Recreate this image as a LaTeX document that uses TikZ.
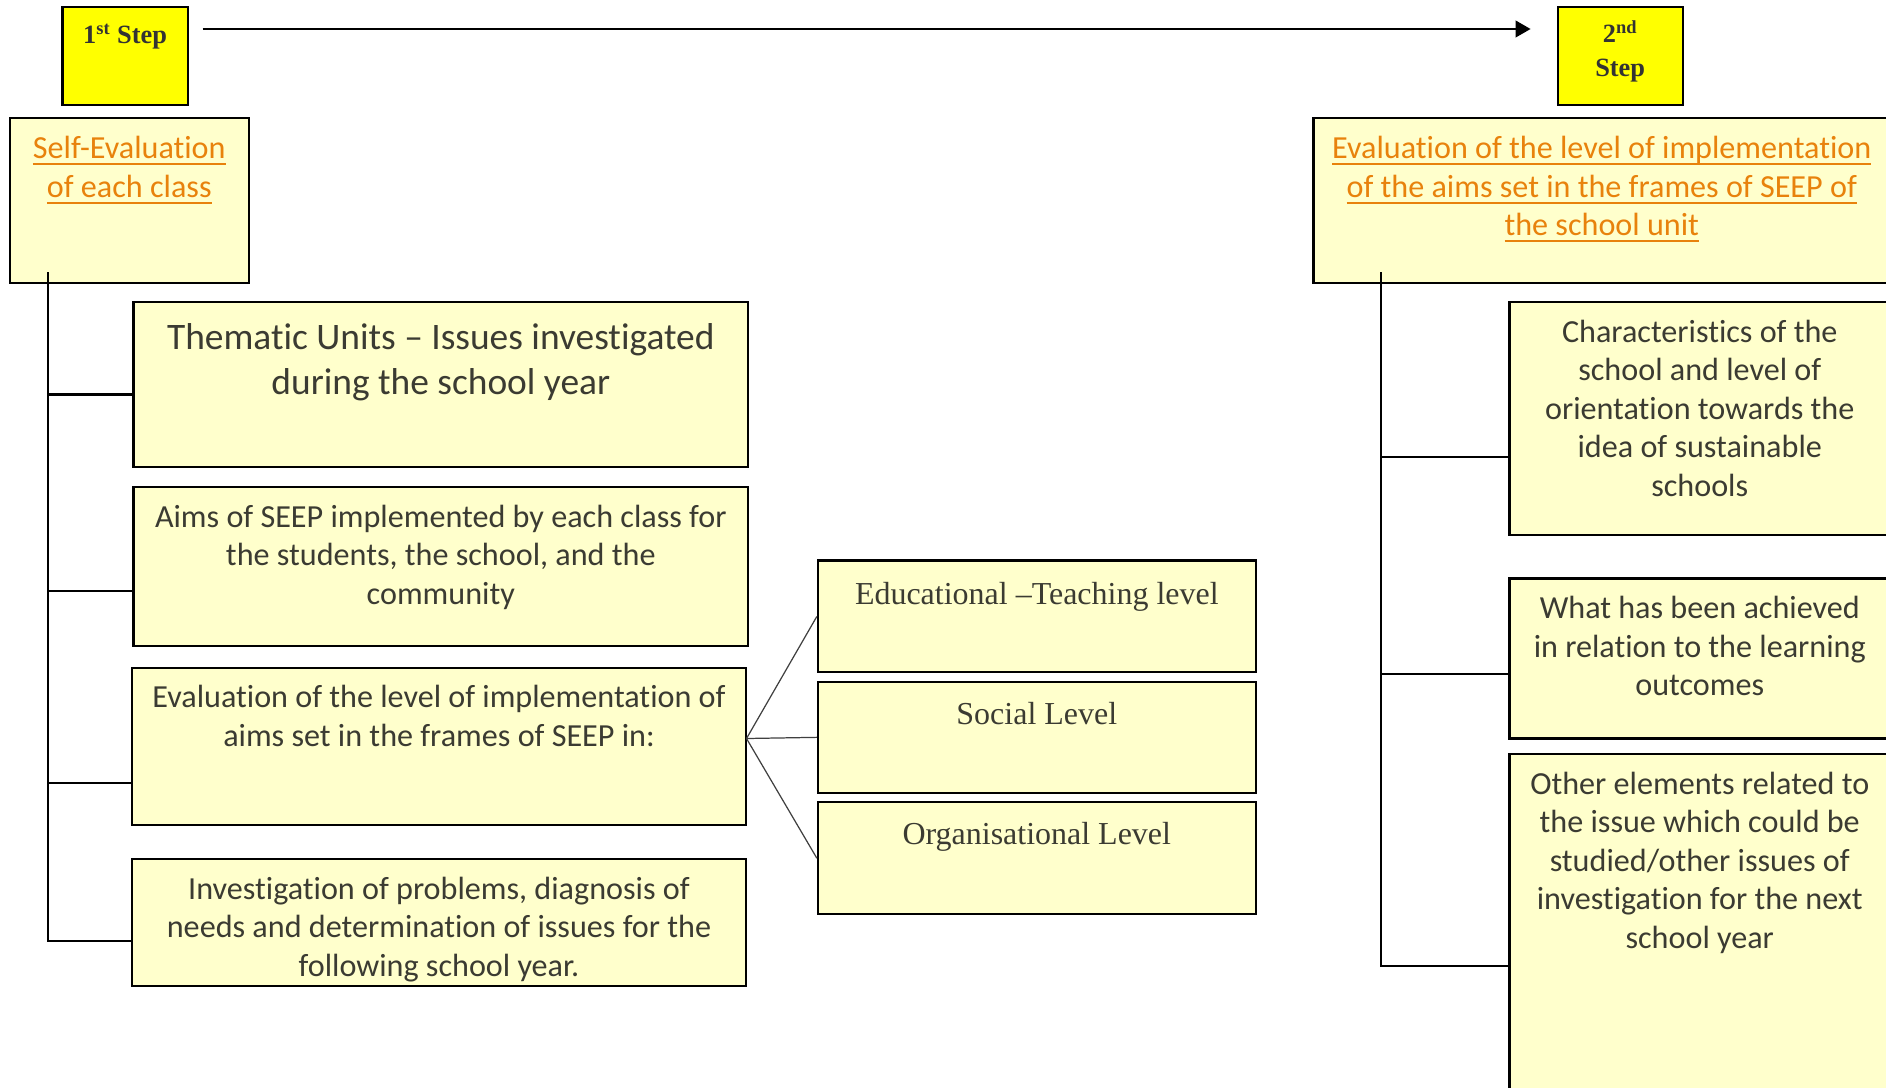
\documentclass[tikz,border=0pt]{standalone}
\usepackage{fontspec}
\setmainfont{Carlito}[Ligatures=NoCommon]
\newfontfamily\tnr{Liberation Serif}
\usetikzlibrary{fit,arrows.meta,calc}
\definecolor{boxfill}{HTML}{FFFFCC}
\definecolor{stepfill}{HTML}{FFFF00}
\definecolor{txtgray}{RGB}{59,59,50}
\definecolor{orangeul}{RGB}{232,130,12}
\newcommand\myul[1]{\setbox0\hbox{#1}\rlap{\rule[-0.2em]{\wd0}{0.07em}}\box0}
\newcommand\tstrut{\rule{0pt}{0.8em}}
\begin{document}
\begin{tikzpicture}[x=0.02cm,y=-0.02cm,
  box/.style={draw=black, line width=1.2pt, fill=boxfill, inner sep=0pt},
  stepbox/.style={box, fill=stepfill},
  txt/.style={inner sep=0pt, align=center, text=txtgray, font=\fontsize{18.3pt}{21.9pt}\selectfont, anchor=north},
  bigtxt/.style={txt, font=\fontsize{21.3pt}{25.2pt}\selectfont},
  hdr/.style={txt, text=orangeul},
  tmstxt/.style={txt, font=\tnr\fontsize{18.2pt}{22pt}\selectfont},
  steptxt/.style={txt, text=black!80, font=\tnr\bfseries\fontsize{15pt}{19.4pt}\selectfont},
  conn/.style={draw=black, line width=1.2pt},
  fan/.style={draw=black!75, line width=0.7pt},
  arr/.style={draw=black, line width=1pt, -{Triangle[length=8.5pt,width=9.5pt]}}]
\useasboundingbox (0,0) rectangle (1886,1088);
\clip (0,0) rectangle (1886,1088);

% boxes
\node[stepbox, fit={(62.5,7.2) (187.6,104.6)}] (s1) {};
\node[stepbox, fit={(1557.6,7.2) (1682.7,104.6)}] (s2) {};
\node[box, fit={(9.6,117.9) (249,282.7)}] (se) {};
\node[box, fit={(1313.5,117.9) (1890,282.7)}] (er) {};
\node[box, fit={(133.5,301.9) (748.1,466.7)}] (thm) {};
\node[box, fit={(133.5,487.1) (748.1,645.9)}] (aim) {};
\node[box, fit={(132.3,667.6) (745.7,825.1)}] (eva) {};
\node[box, fit={(132.3,858.8) (745.7,986.3)}] (inv) {};
\node[box, fit={(817.9,560.5) (1255.7,672.4)}] (edu) {};
\node[box, fit={(817.9,682) (1255.7,792.7)}] (soc) {};
\node[box, fit={(817.9,802.3) (1255.7,914.1)}] (org) {};
\node[box, fit={(1509.5,301.9) (1890,535.2)}] (chr) {};
\node[box, fit={(1509.5,578.5) (1890,738.5)}] (ach) {};
\node[box, fit={(1509.5,754.2) (1890,1100)}] (oth) {};

% texts
\node[steptxt] (s1t) at (s1.north |- 0,22.3) {\tstrut 1\textsuperscript{st} Step};
\node[steptxt] (s2t) at (s2.north |- 0,20) {\tstrut 2\textsuperscript{nd}\\Step};
\node[hdr] (set) at (se.north |- 0,132.8) {\tstrut\myul{Self-Evaluation}\\\myul{of each class}};
\node[hdr] (ert) at (er.north |- 0,132.8) {\tstrut\myul{Evaluation of the level of implementation}\\\myul{of the aims set in the frames of SEEP of}\\\myul{the school unit}};
\node[bigtxt] (thmt) at (thm.north |- 0,319.5) {\tstrut Thematic Units – Issues investigated\\during the school year};
\node[txt] (aimt) at (aim.north |- 0,501.2) {\tstrut Aims of SEEP implemented by each class for\\the students, the school, and the\\community};
\node[txt] (evat) at (eva.north |- 0,681.8) {\tstrut Evaluation of the level of implementation of\\aims set in the frames of SEEP in:};
\node[txt] (invt) at (inv.north |- 0,873.1) {\tstrut Investigation of problems, diagnosis of\\needs and determination of issues for the\\following school year.};
\node[tmstxt] (edut) at (edu.north |- 0,578.2) {\tstrut Educational –Teaching level};
\node[tmstxt] (soct) at (soc.north |- 0,698.5) {\tstrut Social Level};
\node[tmstxt] (orgt) at (org.north |- 0,818.7) {\tstrut Organisational Level};
\node[txt] (chrt) at (chr.north |- 0,316.2) {\tstrut Characteristics of the\\school and level of\\orientation towards the\\idea of sustainable\\schools};
\node[txt] (acht) at (ach.north |- 0,592.8) {\tstrut What has been achieved\\in relation to the learning\\outcomes};
\node[txt] (otht) at (oth.north |- 0,768.4) {\tstrut Other elements related to\\the issue which could be\\studied/other issues of\\investigation for the next\\school year};

% arrow between steps
\draw[arr, shorten <=0.28cm, shorten >=0.52cm] (s1.east |- 0,29) -- (s2.west |- 0,29);

% left trunk
\coordinate (lt) at (48,272);
\coordinate (l1) at (48,394.5);
\coordinate (l2) at (48,590.6);
\coordinate (l3) at (48,783);
\coordinate (lb) at (48,940.6);
\draw[conn] (lt) -- (lb) -- (lb -| inv.west);
\draw[conn] (l1) -- (l1 -| thm.west);
\draw[conn] (l2) -- (l2 -| aim.west);
\draw[conn] (l3) -- (l3 -| eva.west);

% fan
\coordinate (apex) at (746.5,738.5);
\draw[fan] (apex) -- (edu.west);
\draw[fan] (apex) -- (soc.west);
\draw[fan] (apex) -- (org.west);

% right trunk
\coordinate (rt) at (1380.8,272);
\coordinate (r1) at (1380.8,457);
\coordinate (r2) at (1380.8,673.6);
\coordinate (rb) at (1380.8,965.8);
\draw[conn] (rt) -- (rb) -- (rb -| oth.west);
\draw[conn] (r1) -- (r1 -| chr.west);
\draw[conn] (r2) -- (r2 -| ach.west);
\end{tikzpicture}
\end{document}
